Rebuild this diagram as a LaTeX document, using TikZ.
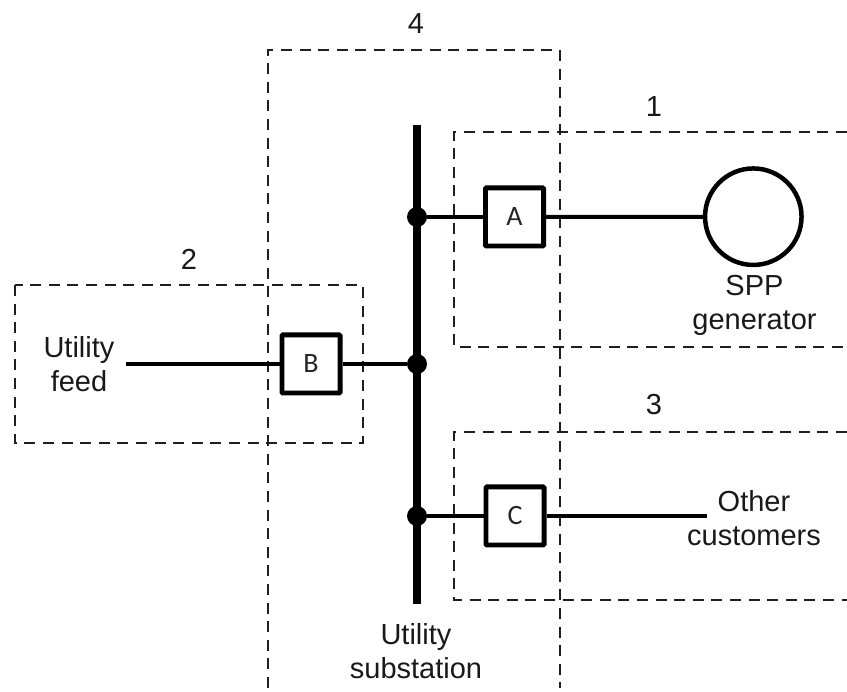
\documentclass[tikz,border=0pt]{standalone}
\usepackage{fontspec}
\setmainfont{Liberation Sans}
\newfontfamily\boxfont{Carlito}
\tikzset{
  zone/.style={draw=black!88,line width=2.5pt,dash pattern=on 11pt off 7.6pt},
  wire/.style={draw=black,line width=4pt},
  bus/.style={draw=black,line width=7.8pt},
  brk/.style={draw=black,line width=4.8pt,fill=white,rounded corners=1pt,minimum width=58.2pt,minimum height=58.2pt,inner sep=0pt,font=\boxfont\fontsize{28}{30}\selectfont,text=black!85},
  junction/.style={circle,fill=black,minimum size=20pt,inner sep=0pt},
  lbl/.style={font=\fontsize{29}{34}\selectfont,align=center,inner sep=0pt,text=black!90},
  num/.style={font=\fontsize{29}{34}\selectfont,inner sep=0pt,text=black!90}
}
\begin{document}
\begin{tikzpicture}[x=1pt,y=-1pt]
\useasboundingbox (0,0) rectangle (847,692);
\draw[zone] (847,132) -- (454,132) -- (454,347) -- (847,347);
\draw[zone] (847,432) -- (454,432) -- (454,600) -- (847,600);
\draw[zone] (15,285) rectangle (363,443);
\draw[zone] (268,688) -- (268,50) -- (560,50) -- (560,688);
\coordinate (bt) at (417,125);
\coordinate (bb) at (417,604);
\draw[bus] (bt) -- (bb);
\node[junction] (ja) at (417,217) {};
\node[junction] (jb) at (417,364) {};
\node[junction] (jc) at (417,516) {};
\node[brk] (A) at (514.5,217) {A};
\node[brk] (B) at (311,364) {B};
\node[brk] (C) at (515,516) {C};
\node[draw=black,line width=4.5pt,circle,fill=white,minimum size=96.5pt,inner sep=0pt] (G) at (753.3,216.7) {};
\coordinate (uf) at (126,364);
\coordinate (oc) at (707,516);
\draw[wire] (ja) -- (A);
\draw[wire] (A) -- (G);
\draw[wire] (uf) -- (B);
\draw[wire] (B) -- (jb);
\draw[wire] (jc) -- (C);
\draw[wire] (C) -- (oc);
\node[lbl] (t1) at (79,364.5) {Utility\\feed};
\node[lbl] (t2) at (754.5,305.5) {SPP\\generator};
\node[lbl] (t3) at (754,518) {Other\\customers};
\node[lbl] (t4) at (416,651.5) {Utility\\substation};
\node[num] (n4) at (416,24) {4};
\node[num] (n1) at (654,107) {1};
\node[num] (n2) at (189,259) {2};
\node[num] (n3) at (654,405) {3};
\end{tikzpicture}
\end{document}
